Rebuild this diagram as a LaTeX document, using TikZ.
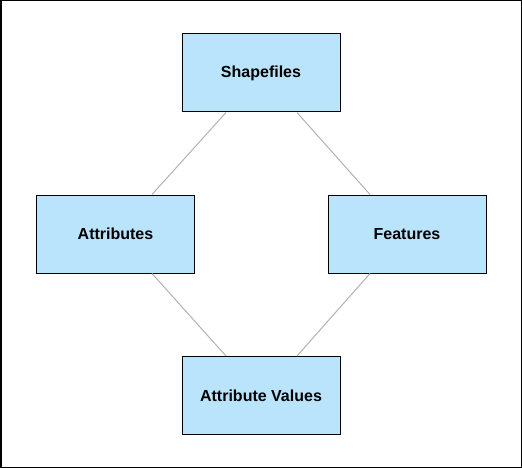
\documentclass[tikz,border=0pt]{standalone}
\usepackage{fontspec}
\setmainfont{Liberation Sans}
\definecolor{boxblue}{HTML}{BAE4FB}
\begin{document}
\begin{tikzpicture}[x=1pt,y=-1pt,
  entity/.style={draw=black,fill=boxblue,line width=1pt,minimum width=158pt,minimum height=78pt,inner sep=0pt,font=\fontsize{16}{19}\selectfont\bfseries},
  link/.style={draw=black!30,line width=1pt}]
\useasboundingbox (0,0) rectangle (522,468);
\draw [black,line width=1.5pt] (0.75,0.75) rectangle (521.25,467.25);
\node [entity] (shp) at (261,73) {Shapefiles};
\node [entity] (attr) at (115.5,234) {Attributes};
\node [entity] (feat) at (407,234) {Features};
\node [entity] (vals) at (261,395.5) {Attribute Values};
\draw [link] ([xshift=-35pt]shp.south) -- ([xshift=36.5pt]attr.north);
\draw [link] ([xshift=36pt]shp.south) -- ([xshift=-37pt]feat.north);
\draw [link] ([xshift=36.5pt]attr.south) -- ([xshift=-35pt]vals.north);
\draw [link] ([xshift=-37pt]feat.south) -- ([xshift=36pt]vals.north);
\end{tikzpicture}
\end{document}
